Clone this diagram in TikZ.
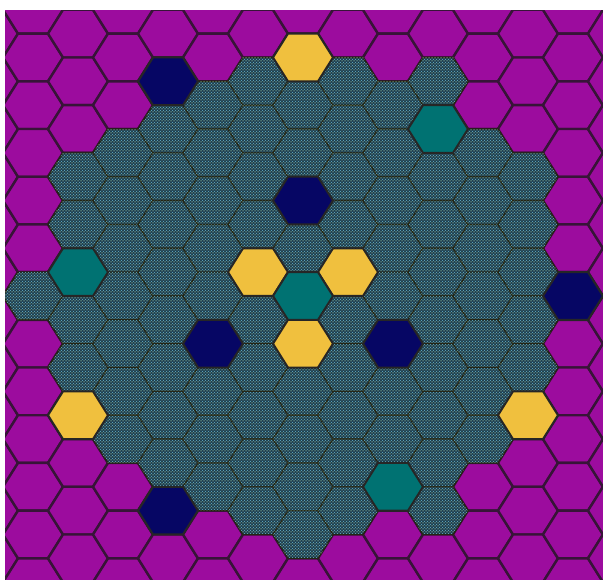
\documentclass[tikz,border=0pt]{standalone}
\usetikzlibrary{patterns}
\definecolor{hpurple}{RGB}{156,12,158}
\definecolor{hyellow}{RGB}{240,192,62}
\definecolor{hnavy}{RGB}{6,6,100}
\definecolor{hteal}{RGB}{0,114,114}
\definecolor{hline}{RGB}{55,20,55}
\definecolor{tbase}{RGB}{30,62,82}
\definecolor{tdots}{RGB}{105,185,200}
\definecolor{tdotsb}{RGB}{175,195,120}
\definecolor{tline}{RGB}{35,35,18}
\tikzset{
  purplecell/.style={fill=hpurple,draw=hline,line width=2.4pt,line join=round},
  texcell/.style={fill=tbase,postaction={pattern=crosshatch dots,pattern color=tdots},postaction={pattern=dots,pattern color=tdotsb},draw=tline,line width=1.2pt,line join=round},
  yellowcell/.style={fill=hyellow,draw=black!85,line width=2pt,line join=round},
  navycell/.style={fill=hnavy,draw=black!85,line width=2pt,line join=round},
  tealcell/.style={fill=hteal,draw=black!85,line width=2pt,line join=round}
}
\newcommand\hexat[3]{%
  \pgfmathsetmacro\hx{303+45*#1}%
  \pgfmathsetmacro\hy{580-(57.5+47.7*#2+23.85*mod(abs(#1),2))}%
  \path[#3] (\hx+30,\hy) -- (\hx+15,\hy+23.85) -- (\hx-15,\hy+23.85) -- (\hx-30,\hy) -- (\hx-15,\hy-23.85) -- (\hx+15,\hy-23.85) -- cycle;%
}
\begin{document}
\begin{tikzpicture}[x=1pt,y=1pt]
\useasboundingbox (0,0) rectangle (603,580);
\fill[white] (0,0) rectangle (603,580);
\begin{scope}
\clip (5,0) rectangle (603,569);
\foreach \k in {-7,...,7}{
  \foreach \j in {-1,...,11}{
    \hexat{\k}{\j}{purplecell}
  }
}
\foreach \k/\a/\b in {-6/5/5,-5/2/6,-4/2/8,-3/0/9,-2/1/9,-1/0/9,0/0/10,1/0/9,2/1/9,3/0/9,4/2/8,5/2/6,6/5/5}{
  \foreach \j in {\a,...,\b}{
    \hexat{\k}{\j}{texcell}
  }
}
\foreach \k/\j in {0/0,-1/4,1/4,0/6,-5/7,5/7}{\hexat{\k}{\j}{yellowcell}}
\foreach \k/\j in {-3/0,0/3,-2/6,2/6,6/5,-3/9}{\hexat{\k}{\j}{navycell}}
\foreach \k/\j in {3/1,0/5,-5/4,2/9}{\hexat{\k}{\j}{tealcell}}
\end{scope}
\end{tikzpicture}
\end{document}
